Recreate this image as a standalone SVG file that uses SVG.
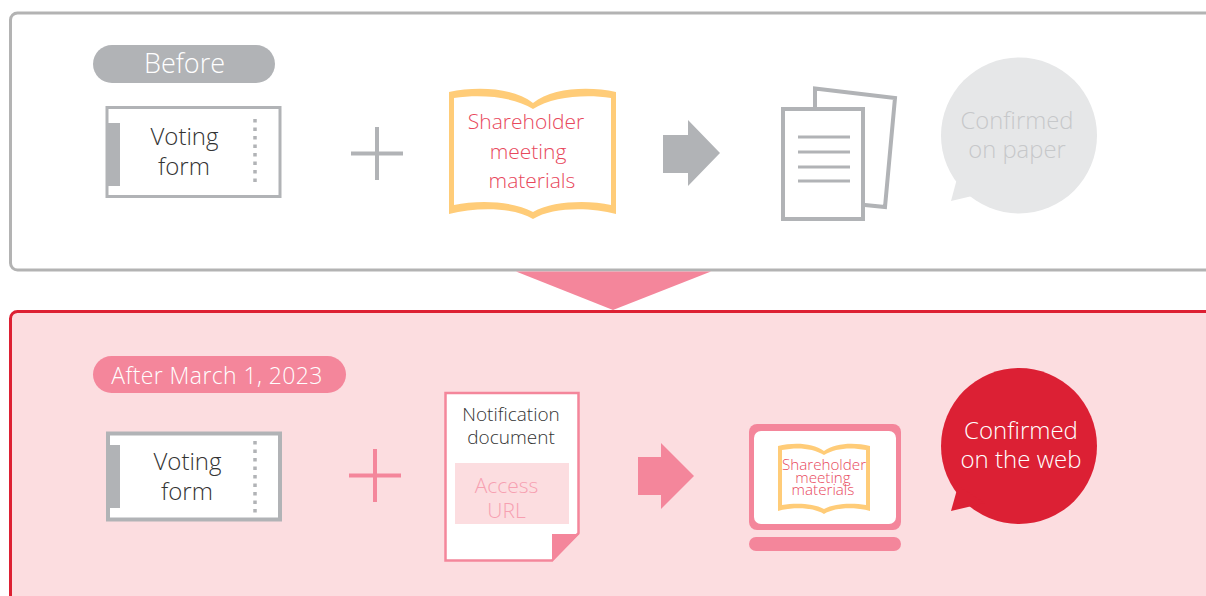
<svg xmlns="http://www.w3.org/2000/svg" width="1206" height="596" viewBox="0 0 1206 596">
<style>
text{font-family:"Open Sans","Liberation Sans",sans-serif;font-weight:300;text-anchor:middle}
.dark{fill:#333}
.red{fill:#e8485c}
.w{fill:#fff}
.form{fill:#fff;stroke:#b1b3b6}
.tab{fill:#b1b3b6}
.dots{fill:none;stroke:#b1b3b6;stroke-width:3.5;stroke-dasharray:3.5 5}
.gray{fill:#b1b3b6}
.pink{fill:#f4869b}
.ln{fill:none;stroke:#b1b3b6;stroke-width:3}
.book-o{fill:#ffcc78}
.book-i{fill:#fff}
</style>
<g id="panel-before"><rect x="10.500" y="13" width="1220" height="257" rx="7" fill="#fff" stroke="#b3b3b3" stroke-width="3"/></g>
<g id="panel-after"><rect x="10.500" y="311.500" width="1220" height="320" rx="7" fill="#fcdde0" stroke="#dd2033" stroke-width="3"/></g>
<g id="connectors">
<path class="pink" d="M516 271.500H711L613 310Z"/>
<path class="gray" d="M663 135H688V120L720 153L688 186V173H663Z"/>
<path class="pink" d="M638 457H661V443L694 476L661 509V495H638Z"/>
<path d="M351 153.500H403M377 127V180" fill="none" stroke="#b1b3b6" stroke-width="4"/>
<path d="M349 475.500H401M375 449V502" fill="none" stroke="#f4869b" stroke-width="4"/>
</g>
<g id="label-before"><rect class="gray" x="93" y="45" width="182" height="38" rx="19"/><text class="w" x="184.500" y="73" font-size="27">Before</text></g>
<g id="voting-form-before">
<rect class="form" x="107" y="107.500" width="173" height="89" stroke-width="3"/>
<rect class="tab" x="106" y="123" width="14" height="63"/>
<path class="dots" d="M255 119V184"/>
<text class="dark" x="184.500" y="145" font-size="24">Voting</text>
<text class="dark" x="184" y="175" font-size="24">form</text>
</g>
<g id="materials-before">
<path class="book-o" d="M449 92C478 86 514 88 533 103C552 88 588 86 616 92V214C590 207 552 207 533 219C514 207 476 207 449 214Z"/>
<path class="book-i" d="M454 98C482 94 514 97 533 109C552 97 584 94 611 98V205C588 200 552 201 533 212C514 201 478 200 454 205Z"/>
<text class="red" x="526" y="129" font-size="21">Shareholder</text>
<text class="red" x="528" y="159" font-size="21">meeting</text>
<text class="red" x="532" y="188" font-size="21">materials</text>
</g>
<g id="papers">
<path d="M815 88.500L895 98L885 207L815 200Z" fill="#fff" stroke="#b1b3b6" stroke-width="4"/>
<rect x="783" y="109" width="80" height="110" fill="#fff" stroke="#b1b3b6" stroke-width="4"/>
<path class="ln" d="M798 137H850M798 152H850M798 167H850M798 181H850"/>
</g>
<g id="bubble-paper">
<circle cx="1019" cy="135.500" r="78" fill="#e6e7e8"/>
<path d="M958 175L951 201L985 193Z" fill="#e6e7e8"/>
<text x="1017" y="129" font-size="23.800" fill="#c6c8ca">Confirmed</text>
<text x="1017" y="158" font-size="23.800" fill="#c6c8ca">on paper</text>
</g>
<g id="label-after"><rect class="pink" x="93" y="356" width="253" height="37" rx="18.500"/><text class="w" x="217" y="384" font-size="23" letter-spacing=".4">After March 1, 2023</text></g>
<g id="voting-form-after">
<rect class="form" x="108" y="433.500" width="172" height="86" stroke-width="4"/>
<rect class="tab" x="108" y="445" width="12" height="63"/>
<path class="dots" d="M255 441V515"/>
<text class="dark" x="187.500" y="470" font-size="24">Voting</text>
<text class="dark" x="187" y="500" font-size="24">form</text>
</g>
<g id="notification">
<path d="M445.500 393H578.500V533L552 560.500H445.500Z" fill="#fff" stroke="#f4869b" stroke-width="2.500"/>
<path class="pink" d="M552 534H579.500L552 561.500Z"/>
<text class="dark" x="511" y="421" font-size="19">Notification</text>
<text class="dark" x="511" y="444" font-size="19">document</text>
<rect x="455" y="463" width="114" height="61" fill="#fcdde0"/>
<text x="506.500" y="493" font-size="21" fill="#f7a0b1">Access</text>
<text x="506.500" y="518" font-size="21" fill="#f7a0b1">URL</text>
</g>
<g id="laptop">
<rect class="pink" x="749" y="424" width="152" height="106" rx="8"/>
<rect x="754" y="431" width="142" height="93" rx="7" fill="#fff"/>
<rect class="pink" x="749" y="537" width="152" height="14" rx="7"/>
<path class="book-o" d="M778 446C794 442 813 443 824 451C835 443 854 442 870 446V511C856 507 835 507 824 514C813 507 792 507 778 511Z"/>
<path class="book-i" d="M782 450C797 447 813 448 824 455C835 448 851 447 866 450V505C853 503 835 503 824 509C813 503 795 503 782 505Z"/>
<text class="red" x="824" y="470" font-size="15.200">Shareholder</text>
<text class="red" x="823" y="483" font-size="15.200">meeting</text>
<text class="red" x="823" y="495" font-size="15.200">materials</text>
</g>
<g id="bubble-web">
<circle cx="1019" cy="446" r="78" fill="#dc2034"/>
<path d="M958 486L951 511L985 503Z" fill="#dc2034"/>
<text class="w" x="1021" y="439" font-size="24">Confirmed</text>
<text class="w" x="1021" y="468" font-size="24">on the web</text>
</g>
</svg>
